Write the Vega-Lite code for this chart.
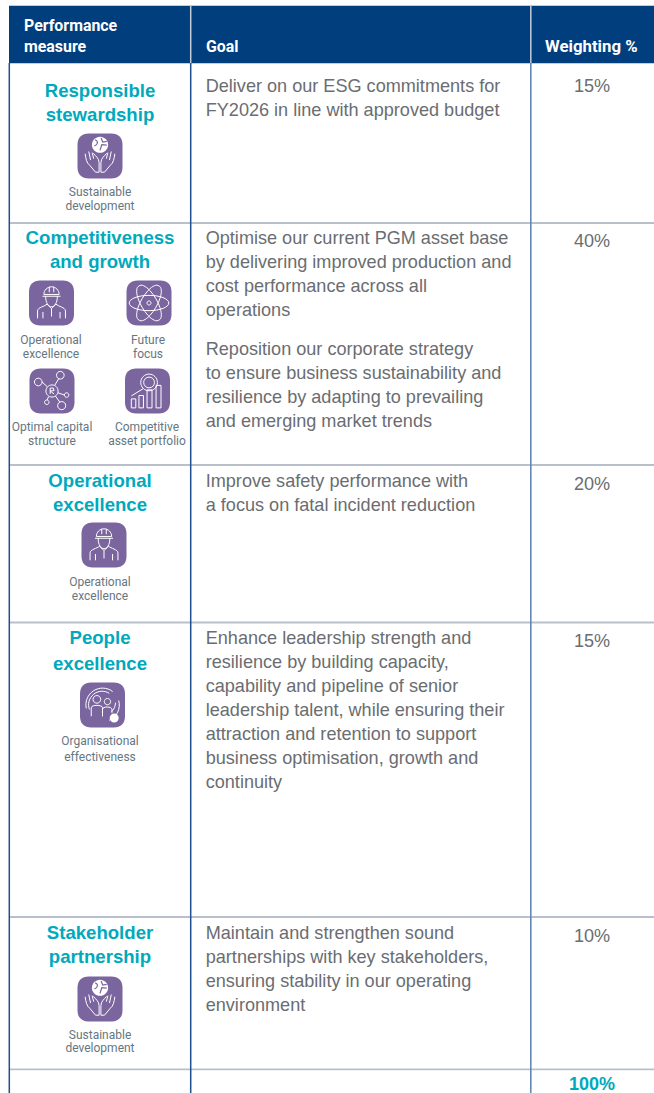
{"$schema":"https://vega.github.io/schema/vega-lite/v6.json","width":654,"height":1093,"padding":0,"autosize":{"type":"none"},"background":"#ffffff","view":{"stroke":null},
"datasets":{
"cells":[{"x":9,"x2":654,"y":5.8,"y2":63.2,"c":"header"}],
"icons":[
{"cx":100,"cy":156,"icon":"hands"},{"cx":51.5,"cy":303,"icon":"worker"},{"cx":149,"cy":303,"icon":"atom"},{"cx":52,"cy":391,"icon":"network"},{"cx":147.5,"cy":391,"icon":"search"},{"cx":104,"cy":545,"icon":"worker"},{"cx":102.5,"cy":705,"icon":"people"},{"cx":100,"cy":999,"icon":"hands"}],
"vlines":[
{"x":9.3,"y":63,"y2":1093,"k":"a"},{"x":190.7,"y":63,"y2":1093,"k":"a"},{"x":530.8,"y":63,"y2":1093,"k":"b"},{"x":190.7,"y":6,"y2":63,"k":"h"},{"x":530.8,"y":6,"y2":63,"k":"h"}],
"hlines":[{"y":223},{"y":465},{"y":622.5},{"y":917},{"y":1069.3}],
"header":[{"x":24,"y":31,"t":"Performance"},{"x":24,"y":52,"t":"measure"},{"x":206,"y":52,"t":"Goal"}],
"titles":[{"x":100,"y":97,"t":"Responsible"},{"x":100,"y":121,"t":"stewardship"},{"x":100,"y":244,"t":"Competitiveness"},{"x":100,"y":268,"t":"and growth"},{"x":100,"y":487,"t":"Operational"},{"x":100,"y":511,"t":"excellence"},{"x":100,"y":644,"t":"People"},{"x":100,"y":670,"t":"excellence"},{"x":100,"y":939,"t":"Stakeholder"},{"x":100,"y":963,"t":"partnership"}],
"captions":[{"x":100,"y":196,"t":"Sustainable"},{"x":100,"y":210,"t":"development"},{"x":51,"y":344,"t":"Operational"},{"x":51,"y":358,"t":"excellence"},{"x":148,"y":344,"t":"Future"},{"x":148,"y":358,"t":"focus"},{"x":52,"y":431,"t":"Optimal capital"},{"x":52,"y":445,"t":"structure"},{"x":147,"y":431,"t":"Competitive"},{"x":147,"y":445,"t":"asset portfolio"},{"x":100,"y":586,"t":"Operational"},{"x":100,"y":600,"t":"excellence"},{"x":100,"y":745,"t":"Organisational"},{"x":100,"y":761,"t":"effectiveness"},{"x":100,"y":1039,"t":"Sustainable"},{"x":100,"y":1052,"t":"development"}],
"body":[{"y":92,"t":"Deliver on our ESG commitments for"},{"y":116,"t":"FY2026 in line with approved budget"},{"y":244,"t":"Optimise our current PGM asset base"},{"y":268,"t":"by delivering improved production and"},{"y":292,"t":"cost performance across all"},{"y":316,"t":"operations"},{"y":355,"t":"Reposition our corporate strategy"},{"y":379,"t":"to ensure business sustainability and"},{"y":403,"t":"resilience by adapting to prevailing"},{"y":427,"t":"and emerging market trends"},{"y":487,"t":"Improve safety performance with"},{"y":511,"t":"a focus on fatal incident reduction"},{"y":644,"t":"Enhance leadership strength and"},{"y":668,"t":"resilience by building capacity,"},{"y":692,"t":"capability and pipeline of senior"},{"y":716,"t":"leadership talent, while ensuring their"},{"y":740,"t":"attraction and retention to support"},{"y":764,"t":"business optimisation, growth and"},{"y":788,"t":"continuity"},{"y":939,"t":"Maintain and strengthen sound"},{"y":963,"t":"partnerships with key stakeholders,"},{"y":987,"t":"ensuring stability in our operating"},{"y":1011,"t":"environment"}],
"weights":[{"y":92,"t":"15%"},{"y":247,"t":"40%"},{"y":490,"t":"20%"},{"y":647,"t":"15%"},{"y":942,"t":"10%"}]
},
"layer":[
{"data":{"name":"cells"},"mark":{"type":"rect","color":"#003e7e"},"encoding":{"x":{"field":"x","type":"quantitative","scale":{"domain":[0,654],"nice":false,"zero":false},"axis":null},"x2":{"field":"x2"},"y":{"field":"y","type":"quantitative","scale":{"domain":[1093,0],"nice":false,"zero":false},"axis":null},"y2":{"field":"y2"}}},
{"data":{"name":"hlines"},"mark":{"type":"rule","color":"#b9c0cc","strokeWidth":1.8},"encoding":{"y":{"field":"y","type":"quantitative"},"x":{"datum":9,"type":"quantitative"},"x2":{"datum":654}}},
{"data":{"name":"vlines"},"mark":{"type":"rule","strokeWidth":1.5},"encoding":{"x":{"field":"x","type":"quantitative"},"y":{"field":"y","type":"quantitative"},"y2":{"field":"y2"},"color":{"field":"k","type":"nominal","scale":{"domain":["a","b","h"],"range":["#1f4f8c","#5b82ad","#c4ccd8"]},"legend":null}}},
{"data":{"name":"icons"},"mark":{"type":"point","filled":true,"opacity":1,"color":"#7b659f","size":2025,"shape":"M-0.5,-1H0.5C0.82,-1 1,-0.82 1,-0.5V0.5C1,0.82 0.82,1 0.5,1H-0.5C-0.82,1 -1,0.82 -1,0.5V-0.5C-1,-0.82 -0.82,-1 -0.5,-1Z"},"encoding":{"x":{"field":"cx","type":"quantitative"},"y":{"field":"cy","type":"quantitative"}}},
{"data":{"name":"icons"},"transform":[{"filter":"datum.icon=='hands'"}],"mark":{"type":"point","filled":true,"opacity":1,"color":"#ffffff","size":2025,"shape":"M-0.36,-0.5A0.36,0.36 0 1 0 0.36,-0.5A0.36,0.36 0 1 0 -0.36,-0.5Z"},"encoding":{"x":{"field":"cx","type":"quantitative"},"y":{"field":"cy","type":"quantitative"}}},
{"data":{"name":"icons"},"transform":[{"filter":"datum.icon=='hands'"}],"mark":{"type":"point","filled":false,"opacity":1,"stroke":"#7b659f","strokeWidth":1.2,"size":2025,"shape":"M-0.22,-0.72C-0.05,-0.65 -0.1,-0.5 -0.25,-0.45M0,-0.25L0.08,-0.5L0.3,-0.48M0.05,-0.8L0.12,-0.62L0.3,-0.65"},"encoding":{"x":{"field":"cx","type":"quantitative"},"y":{"field":"cy","type":"quantitative"}}},
{"data":{"name":"icons"},"transform":[{"filter":"datum.icon=='people'"}],"mark":{"type":"point","filled":true,"opacity":1,"color":"#ffffff","size":2025,"shape":"M0.32,0.58A0.2,0.2 0 1 0 0.72,0.58A0.2,0.2 0 1 0 0.32,0.58Z"},"encoding":{"x":{"field":"cx","type":"quantitative"},"y":{"field":"cy","type":"quantitative"}}},
{"data":{"name":"icons"},"mark":{"type":"point","filled":false,"opacity":1,"stroke":"#ffffff","strokeWidth":1,"size":2025},"encoding":{"x":{"field":"cx","type":"quantitative"},"y":{"field":"cy","type":"quantitative"},"shape":{"field":"icon","type":"nominal","legend":null,"scale":{"domain":["hands","worker","atom","network","search","people"],"range":[
"M-0.66,-0.1C-0.62,0.15 -0.6,0.3 -0.45,0.42L-0.2,0.72H-0.04V0.3C-0.04,0.1 -0.2,0 -0.3,-0.12M-0.5,-0.2L-0.42,0.18M-0.35,-0.15L-0.28,0.12M0.66,-0.1C0.62,0.15 0.6,0.3 0.45,0.42L0.2,0.72H0.04V0.3C0.04,0.1 0.2,0 0.3,-0.12M0.5,-0.2L0.42,0.18M0.35,-0.15L0.28,0.12",
"M-0.34,-0.38A0.34,0.34 0 0 1 0.34,-0.38ZM-0.4,-0.3H0.4M-0.26,-0.3C-0.26,0.32 0.26,0.32 0.26,-0.3M-0.1,-0.72V-0.48M0.1,-0.72V-0.48M-0.62,0.68V0.35C-0.62,0.2 -0.3,0.15 -0.2,0.05L0,0.25L0.2,0.05C0.3,0.15 0.62,0.2 0.62,0.35V0.68M-0.38,0.4V0.68M0.38,0.4V0.68M0,0.25V0.6",
"M-0.88,0A0.88,0.34 0 1 0 0.88,0A0.88,0.34 0 1 0 -0.88,0ZM-0.44,-0.76A0.88,0.34 60 1 0 0.44,0.76A0.88,0.34 60 1 0 -0.44,-0.76ZM0.44,-0.76A0.88,0.34 -60 1 0 -0.44,0.76A0.88,0.34 -60 1 0 0.44,-0.76ZM-0.09,0A0.09,0.09 0 1 0 0.09,0A0.09,0.09 0 1 0 -0.09,0Z",
"M-0.27,0A0.27,0.27 0 1 0 0.27,0A0.27,0.27 0 1 0 -0.27,0ZM-0.08,0.13V-0.13H0.06L0.09,-0.02L-0.08,0L0.09,0.13M-0.78,-0.4A0.17,0.17 0 1 0 -0.44,-0.4A0.17,0.17 0 1 0 -0.78,-0.4ZM-0.44,-0.4L-0.2,-0.18M0.2,-0.7A0.17,0.17 0 1 0 0.54,-0.7A0.17,0.17 0 1 0 0.2,-0.7ZM0.3,-0.55L0.12,-0.25M0.55,0.18A0.1,0.1 0 1 0 0.75,0.18A0.1,0.1 0 1 0 0.55,0.18ZM0.27,0.08L0.55,0.18M0.25,0.65A0.18,0.18 0 1 0 0.61,0.65A0.18,0.18 0 1 0 0.25,0.65ZM0.15,0.22L0.35,0.5M-0.33,0.5A0.1,0.1 0 1 0 -0.13,0.5A0.1,0.1 0 1 0 -0.33,0.5ZM-0.15,0.25L-0.22,0.4",
"M-0.3,-0.38A0.37,0.37 0 1 0 0.44,-0.38A0.37,0.37 0 1 0 -0.3,-0.38ZM-0.17,-0.38A0.24,0.24 0 1 0 0.31,-0.38A0.24,0.24 0 1 0 -0.17,-0.38ZM-0.2,-0.1L-0.72,0.22M-0.72,0.35H-0.52V0.75H-0.72ZM-0.38,0.2H-0.18V0.75H-0.38ZM-0.02,-0.05H0.2V0.75H-0.02ZM0.38,-0.25H0.6V0.75H0.38Z",
"M-0.72,0.15A0.74,0.74 0 0 1 0.45,-0.6M0.72,-0.2A0.74,0.74 0 0 1 0.3,0.68M-0.58,0.2A0.6,0.6 0 0 1 0.3,-0.52M0.58,-0.1A0.6,0.6 0 0 1 0.4,0.3M-0.42,-0.25A0.17,0.17 0 1 0 -0.08,-0.25A0.17,0.17 0 1 0 -0.42,-0.25ZM0.08,-0.15A0.14,0.14 0 1 0 0.36,-0.15A0.14,0.14 0 1 0 0.08,-0.15ZM-0.5,0.5V0.12C-0.5,-0.02 0,-0.02 0,0.12V0.5M0,0.5V0.2C0,0.05 0.42,0.05 0.42,0.2V0.35"
]}}}},
{"data":{"name":"header"},"mark":{"type":"text","align":"left","baseline":"alphabetic","font":"Roboto","fontWeight":"bold","fontSize":15.9,"color":"#ffffff"},"encoding":{"x":{"field":"x","type":"quantitative"},"y":{"field":"y","type":"quantitative"},"text":{"field":"t"}}},
{"data":{"values":[{"x":545,"y":52,"t":"Weighting %"}]},"mark":{"type":"text","align":"left","baseline":"alphabetic","font":"Roboto","fontWeight":"bold","fontSize":16.8,"color":"#ffffff"},"encoding":{"x":{"field":"x","type":"quantitative"},"y":{"field":"y","type":"quantitative"},"text":{"field":"t"}}},
{"data":{"name":"titles"},"mark":{"type":"text","align":"center","baseline":"alphabetic","font":"Liberation Sans","fontWeight":"bold","fontSize":18.6,"color":"#00a9bc"},"encoding":{"x":{"field":"x","type":"quantitative"},"y":{"field":"y","type":"quantitative"},"text":{"field":"t"}}},
{"data":{"name":"captions"},"mark":{"type":"text","align":"center","baseline":"alphabetic","font":"Roboto","fontSize":12,"color":"#667681"},"encoding":{"x":{"field":"x","type":"quantitative"},"y":{"field":"y","type":"quantitative"},"text":{"field":"t"}}},
{"data":{"name":"body"},"mark":{"type":"text","align":"left","baseline":"alphabetic","font":"Liberation Sans","fontSize":18.1,"color":"#6a6d71"},"encoding":{"x":{"datum":205.7,"type":"quantitative"},"y":{"field":"y","type":"quantitative"},"text":{"field":"t"}}},
{"data":{"name":"weights"},"mark":{"type":"text","align":"center","baseline":"alphabetic","font":"Liberation Sans","fontSize":18.1,"color":"#6a6d71"},"encoding":{"x":{"datum":592,"type":"quantitative"},"y":{"field":"y","type":"quantitative"},"text":{"field":"t"}}},
{"data":{"values":[{"y":1090,"t":"100%"}]},"mark":{"type":"text","align":"center","baseline":"alphabetic","font":"Liberation Sans","fontWeight":"bold","fontSize":18,"color":"#00a9bc"},"encoding":{"x":{"datum":592,"type":"quantitative"},"y":{"field":"y","type":"quantitative"},"text":{"field":"t"}}}
]}
